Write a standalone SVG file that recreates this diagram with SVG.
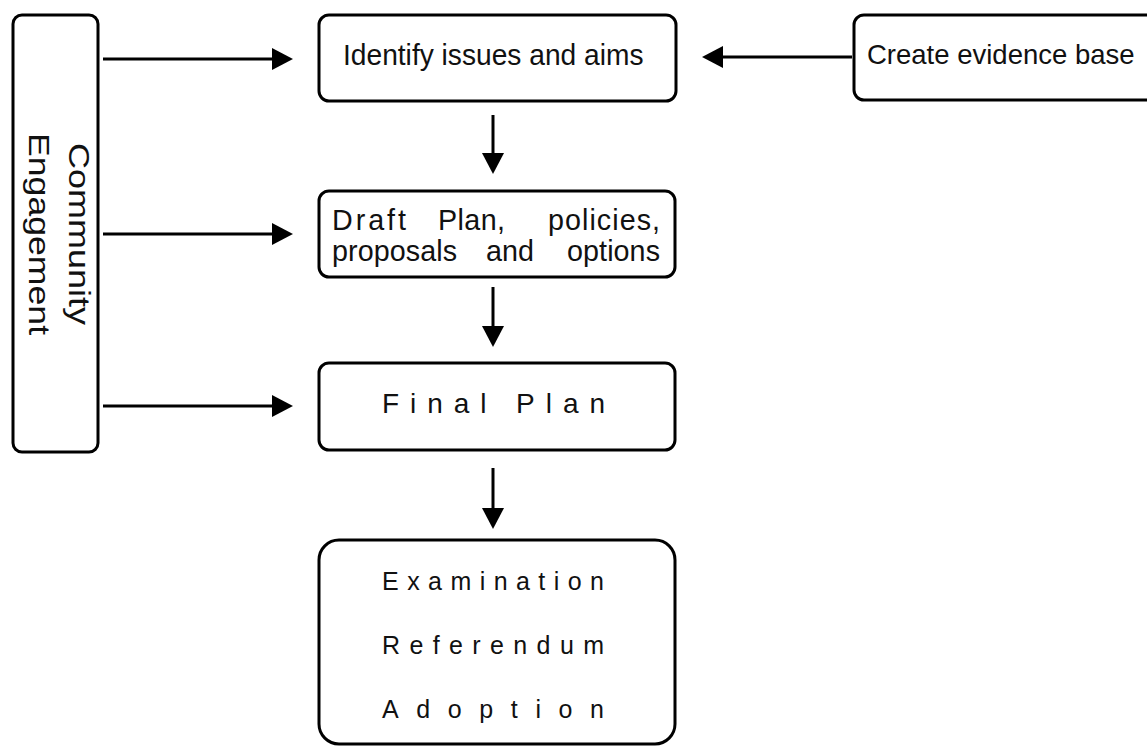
<svg xmlns="http://www.w3.org/2000/svg" width="1147" height="746" viewBox="0 0 1147 746">
  <style>
    .box { fill: #ffffff; stroke: #000000; stroke-width: 3; }
    .conn { stroke: #000000; stroke-width: 3; fill: none; marker-end: url(#arrow); }
    .t { font-family: "Liberation Sans", Arial, sans-serif; fill: #111111; }
  </style>
  <defs>
    <marker id="arrow" markerUnits="userSpaceOnUse" markerWidth="22" markerHeight="22" viewBox="0 0 21 22" refX="11" refY="11" orient="auto">
      <path d="M0,0 L21,11 L0,22 Z" fill="#000000"/>
    </marker>
  </defs>
  <rect width="1147" height="746" fill="#ffffff"/>

  <g id="connectors">
    <line class="conn" x1="103" y1="59" x2="283" y2="59"/>
    <line class="conn" x1="103" y1="234" x2="283" y2="234"/>
    <line class="conn" x1="103" y1="406" x2="283" y2="406"/>
    <line class="conn" x1="852" y1="57" x2="712" y2="57"/>
    <line class="conn" x1="493" y1="115" x2="493" y2="164"/>
    <line class="conn" x1="493" y1="287" x2="493" y2="337"/>
    <line class="conn" x1="493" y1="468" x2="493" y2="519"/>
  </g>

  <g id="community">
    <rect class="box" x="13" y="15" width="85" height="437" rx="9"/>
    <text class="t" font-size="30" transform="translate(69,143) rotate(90) scale(1.2,1)">Community</text>
    <text class="t" font-size="30" transform="translate(28.5,133) rotate(90) scale(1.188,1)">Engagement</text>
  </g>

  <g id="identify">
    <rect class="box" x="319" y="15" width="357" height="86" rx="10"/>
    <text class="t" font-size="29.5" transform="translate(343,65) scale(0.955,1)">Identify issues and aims</text>
  </g>

  <g id="evidence">
    <rect class="box" x="854" y="15" width="310" height="85" rx="10"/>
    <text class="t" x="867" y="64" font-size="27.5">Create evidence base</text>
  </g>

  <g id="draft">
    <rect class="box" x="319" y="191" width="356" height="86" rx="10"/>
    <text class="t" x="332" y="230" font-size="28.7" textLength="74" lengthAdjust="spacing">Draft</text>
    <text class="t" x="438" y="230" font-size="28.7" textLength="67" lengthAdjust="spacing">Plan,</text>
    <text class="t" x="548" y="230" font-size="28.7" textLength="112" lengthAdjust="spacing">policies,</text>
    <text class="t" x="332" y="261" font-size="28.7" textLength="125" lengthAdjust="spacing">proposals</text>
    <text class="t" x="486" y="261" font-size="28.7">and</text>
    <text class="t" x="567" y="261" font-size="28.7" textLength="93" lengthAdjust="spacing">options</text>
  </g>

  <g id="final">
    <rect class="box" x="319" y="363" width="356" height="87" rx="10"/>
    <text class="t" x="382" y="413" font-size="28" textLength="223" lengthAdjust="spacing">Final Plan</text>
  </g>

  <g id="stages">
    <rect class="box" x="319" y="540" width="356" height="204" rx="20"/>
    <text class="t" x="382" y="590" font-size="25" textLength="222" lengthAdjust="spacing">Examination</text>
    <text class="t" x="382" y="654" font-size="25" textLength="222" lengthAdjust="spacing">Referendum</text>
    <text class="t" x="382" y="718" font-size="25" textLength="222" lengthAdjust="spacing">Adoption</text>
  </g>
</svg>
